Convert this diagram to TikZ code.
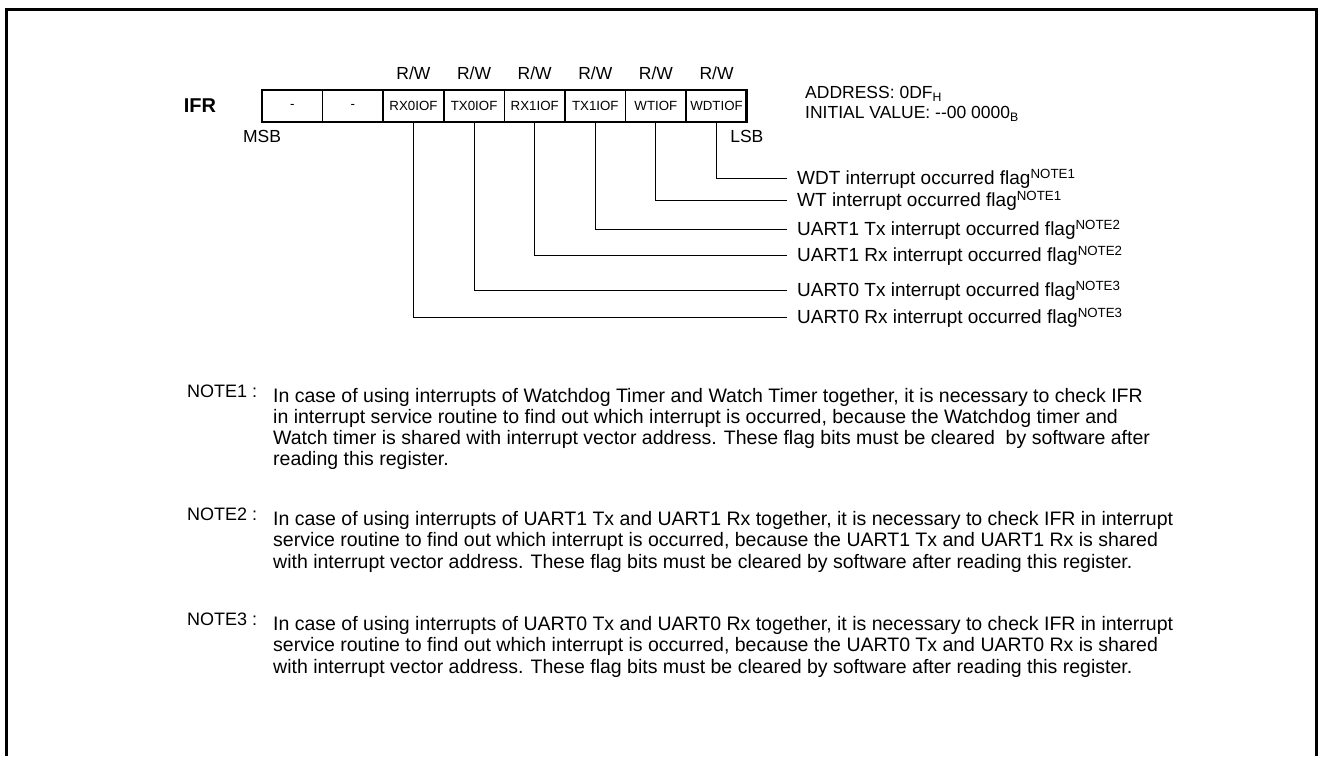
\documentclass[tikz,border=0pt]{standalone}
\usepackage{fontspec}
\setmainfont{Liberation Sans}
\usetikzlibrary{positioning}

\begin{document}
\begin{tikzpicture}[x=1pt,y=-1pt,
    cell/.style={draw,line width=1.7pt,outer sep=0pt,minimum width=60.6pt,
                 minimum height=32pt,inner sep=0pt,font=\fontsize{13.3}{15}\selectfont},
    lbl/.style={inner sep=0pt,font=\fontsize{17.5}{20}\selectfont},
    flag/.style={lbl,anchor=west,text height=13.5pt,text depth=0pt,
                 font=\fontsize{19}{21}\selectfont},
    note/.style={lbl,align=left,anchor=north west,font=\fontsize{19.5}{21.2}\selectfont},
    link/.style={line width=1pt}]
  \useasboundingbox (0,0) rectangle (1321,756);
  % frame, open at the bottom
  \draw[line width=2.3pt] (6.5,756) -- (6.5,9.5) -- (1316.5,9.5) -- (1316.5,756);

  % register IFR
  \node[lbl,font=\bfseries\fontsize{20}{22}\selectfont] (IFR) at (200,106) {IFR};
  \node[cell] (B7) at (292.3,106) {-};
  \node[cell,right=0pt of B7] (B6) {-};
  \node[cell,right=0pt of B6] (B5) {RX0IOF};
  \node[cell,right=0pt of B5] (B4) {TX0IOF};
  \node[cell,right=0pt of B4] (B3) {RX1IOF};
  \node[cell,right=0pt of B3] (B2) {TX1IOF};
  \node[cell,right=0pt of B2] (B1) {WTIOF};
  \node[cell,right=0pt of B1] (B0) {WDTIOF};
  \draw[line width=2.7pt] (B7.north west) rectangle (B0.south east);
  \foreach \b in {B5,B4,B3,B2,B1,B0}
    \node[lbl,above=10pt of \b] (rw\b) {R/W};
  \node[lbl,below=8pt of B7.south west] (MSB) {MSB};
  \node[lbl,below=8pt of B0.south east] (LSB) {LSB};
  \node[lbl,anchor=west] (ADDR) at (805,94) {ADDRESS: 0DF\textsubscript{H}};
  \node[lbl,anchor=west] (INIT) at (805,114) {INITIAL VALUE: -{}-00 0000\textsubscript{B}};

  % bit descriptions
  \node[flag] (fWDT) at (797,178) {WDT interrupt occurred flag\textsuperscript{NOTE1}};
  \node[flag] (fWT) at (797,200) {WT interrupt occurred flag\textsuperscript{NOTE1}};
  \node[flag] (fTX1) at (797,229) {UART1 Tx interrupt occurred flag\textsuperscript{NOTE2}};
  \node[flag] (fRX1) at (797,255) {UART1 Rx interrupt occurred flag\textsuperscript{NOTE2}};
  \node[flag] (fTX0) at (797,290) {UART0 Tx interrupt occurred flag\textsuperscript{NOTE3}};
  \node[flag] (fRX0) at (797,317) {UART0 Rx interrupt occurred flag\textsuperscript{NOTE3}};
  \draw[link] (B0.south) |- ([xshift=-10pt]fWDT.west);
  \draw[link] (B1.south) |- ([xshift=-10pt]fWT.west);
  \draw[link] (B2.south) |- ([xshift=-10pt]fTX1.west);
  \draw[link] (B3.south) |- ([xshift=-10pt]fRX1.west);
  \draw[link] (B4.south) |- ([xshift=-10pt]fTX0.west);
  \draw[link] (B5.south) |- ([xshift=-10pt]fRX0.west);

  % notes
  \node[lbl,anchor=north west,font=\fontsize{18}{20}\selectfont] (N1) at (187,384.5) {NOTE1 :};
  \node[note] (T1) at (273,388) {In case of using interrupts of Watchdog Timer and Watch Timer together, it is necessary to check IFR\\
    in interrupt service routine to find out which interrupt is occurred, because the Watchdog timer and\\
    Watch timer is shared with interrupt vector address. These flag bits must be cleared~ by software after\\
    reading this register.};
  \node[lbl,anchor=north west,font=\fontsize{18}{20}\selectfont] (N2) at (187,507.8) {NOTE2 :};
  \node[note] (T2) at (273,511.3) {In case of using interrupts of UART1 Tx and UART1 Rx together, it is necessary to check IFR in interrupt\\
    service routine to find out which interrupt is occurred, because the UART1 Tx and UART1 Rx is shared\\
    with interrupt vector address. These flag bits must be cleared by software after reading this register.};
  \node[lbl,anchor=north west,font=\fontsize{18}{20}\selectfont] (N3) at (187,612.8) {NOTE3 :};
  \node[note] (T3) at (273,616.3) {In case of using interrupts of UART0 Tx and UART0 Rx together, it is necessary to check IFR in interrupt\\
    service routine to find out which interrupt is occurred, because the UART0 Tx and UART0 Rx is shared\\
    with interrupt vector address. These flag bits must be cleared by software after reading this register.};
\end{tikzpicture}
\end{document}
